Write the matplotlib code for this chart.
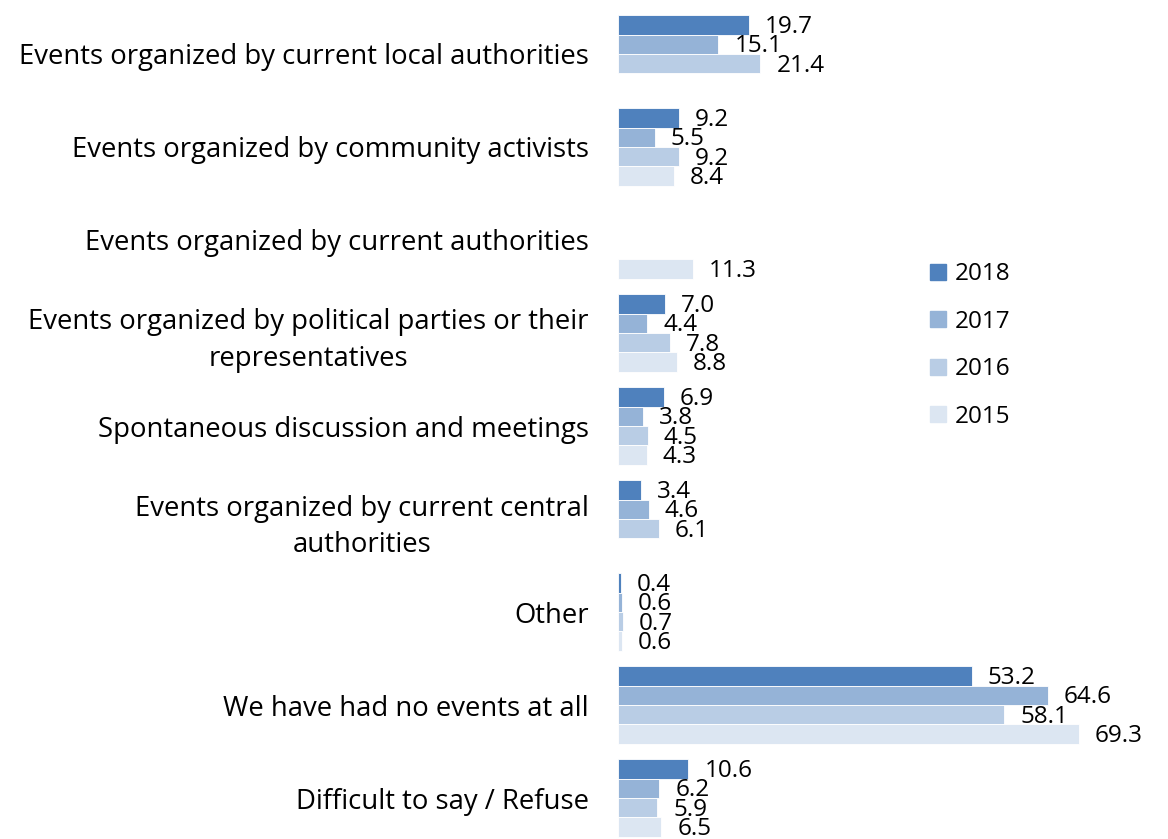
import numpy as np
import matplotlib.pyplot as plt
from matplotlib.patches import Patch

plt.rcParams['font.family'] = ['Open Sans', 'DejaVu Sans']

categories = [
    "Events organized by current local authorities",
    "Events organized by community activists",
    "Events organized by current authorities",
    "Events organized by political parties or their\nrepresentatives",
    "Spontaneous discussion and meetings",
    "Events organized by current central\nauthorities",
    "Other",
    "We have had no events at all",
    "Difficult to say / Refuse",
]
years = ["2018", "2017", "2016", "2015"]
v2018 = [19.7, 9.2, np.nan, 7.0, 6.9, 3.4, 0.4, 53.2, 10.6]
v2017 = [15.1, 5.5, np.nan, 4.4, 3.8, 4.6, 0.6, 64.6, 6.2]
v2016 = [21.4, 9.2, np.nan, 7.8, 4.5, 6.1, 0.7, 58.1, 5.9]
v2015 = [np.nan, 8.4, 11.3, 8.8, 4.3, np.nan, 0.6, 69.3, 6.5]
series = [v2018, v2017, v2016, v2015]
colors = ["#4F81BD", "#95B3D7", "#B9CDE5", "#DCE6F2"]

W, H = 1168, 839
fig = plt.figure(figsize=(W / 100, H / 100), dpi=100)
ax = fig.add_axes([618 / W, 0, 1 - 618 / W, 1])

h = 0.2086
y = np.arange(len(categories))
fs = 17.5

for k, (vals, col) in enumerate(zip(series, colors)):
    pos = y + (k - 1.5) * h
    ax.barh(pos, vals, height=h, color=col, edgecolor="white", linewidth=0.6)
    for p, v in zip(pos, vals):
        if np.isnan(v):
            continue
        ax.annotate(f"{v:.1f}", (v, p), xytext=(11.5, -1.5), textcoords="offset points",
                    ha="left", va="center", fontsize=fs)

ax.set_xlim(0, 550 / 6.65)
ax.set_ylim(8.44, -0.58)
ax.set_yticks(y)
ax.set_yticklabels(categories, fontsize=19.8, multialignment="center", linespacing=1.42)
ax.tick_params(axis="y", length=0, pad=21)
ax.set_xticks([])
for s in ax.spines.values():
    s.set_visible(False)

handles = [Patch(color=c, label=l) for c, l in zip(colors, years)]
fig.legend(handles=handles, loc="upper left", bbox_to_anchor=(918 / W, 1 - 250 / H),
           frameon=False, fontsize=fs, handlelength=0.65, handleheight=0.65,
           handletextpad=0.35, labelspacing=0.97, borderpad=0)

fig.savefig("out.png", dpi=100)
